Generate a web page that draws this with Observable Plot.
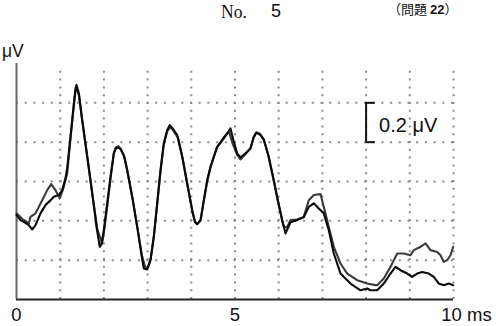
<!DOCTYPE html>
<html><head><meta charset="utf-8">
<script src="https://cdn.jsdelivr.net/npm/d3@7"></script>
<script src="https://cdn.jsdelivr.net/npm/@observablehq/plot@0.6"></script>
<style>
html,body{margin:0;padding:0;background:#fff;}
#wrap{position:relative;width:496px;height:326px;overflow:hidden;font-family:"Liberation Sans",Arial,sans-serif;color:#111;}
#wrap svg{position:absolute;left:0;top:0;}
.t{position:absolute;white-space:nowrap;line-height:1;}
#no{left:221px;top:2px;font-family:"Liberation Serif","DejaVu Serif",serif;font-size:19.5px;transform:scaleX(0.9);transform-origin:left top;}
#five{left:271px;top:2px;font-size:18px;}
#mondai{left:388px;top:2px;font-size:13px;font-family:"Noto Sans CJK JP",sans-serif;}
#uv{left:2px;top:43px;font-size:17.5px;}
</style></head><body>
<div id="wrap">
  <div class="t" id="no">No.</div>
  <div class="t" id="five">5</div>
  <div class="t" id="mondai">（問題 <b style="font-family:'Liberation Sans';">22</b>）</div>
  <div class="t" id="uv">μV</div>
</div>
<script>
// time axis (ms) and amplitude (μV)
const traceA_t = [0,0.092,0.206,0.281,0.359,0.435,0.549,0.664,0.778,0.854,0.968,1.046,1.121,1.160,1.236,1.297,1.350,1.373,1.426,1.503,1.618,1.732,1.831,1.906,1.945,1.998,2.076,2.151,2.227,2.288,2.380,2.455,2.533,2.648,2.762,2.854,2.913,2.991,3.066,3.142,3.220,3.295,3.371,3.449,3.508,3.600,3.677,3.792,3.906,4.021,4.080,4.135,4.211,4.286,4.364,4.439,4.515,4.593,4.668,4.744,4.822,4.897,4.973,5.050,5.126,5.240,5.355,5.430,5.492,5.584,5.659,5.773,5.888,5.979,6.080,6.156,6.270,6.423,6.574,6.689,6.803,6.918,7.032,7.146,7.261,7.414,7.643,7.872,8.025,8.101,8.254,8.405,8.558,8.673,8.787,8.941,9.055,9.169,9.284,9.435,9.549,9.664,9.778,9.892,9.993];
const traceA_v = [0.429,0.404,0.390,0.378,0.356,0.378,0.438,0.480,0.504,0.522,0.531,0.556,0.616,0.668,0.827,0.963,1.074,1.091,1.050,0.912,0.726,0.541,0.369,0.268,0.281,0.353,0.490,0.624,0.745,0.774,0.768,0.734,0.658,0.522,0.369,0.236,0.158,0.153,0.200,0.319,0.490,0.658,0.794,0.862,0.887,0.862,0.836,0.726,0.590,0.454,0.395,0.383,0.404,0.505,0.607,0.675,0.726,0.777,0.797,0.819,0.845,0.870,0.802,0.743,0.723,0.743,0.768,0.827,0.850,0.836,0.811,0.726,0.607,0.505,0.404,0.336,0.393,0.404,0.419,0.471,0.489,0.463,0.438,0.353,0.234,0.132,0.081,0.047,0.056,0.047,0.047,0.081,0.132,0.166,0.149,0.132,0.115,0.132,0.140,0.132,0.115,0.081,0.073,0.081,0.073];

const traceB_t = [0,0.137,0.281,0.320,0.435,0.588,0.703,0.794,0.892,0.991,1.082,1.160,1.236,1.297,1.350,1.384,1.430,1.510,1.625,1.739,1.854,1.961,2.014,2.080,2.151,2.227,2.265,2.334,2.403,2.470,2.540,2.655,2.770,2.870,2.950,3.010,3.070,3.145,3.220,3.295,3.371,3.449,3.500,3.560,3.630,3.700,3.800,3.910,4.021,4.090,4.140,4.211,4.286,4.364,4.439,4.515,4.593,4.668,4.744,4.822,4.874,4.950,5.050,5.126,5.240,5.355,5.420,5.480,5.560,5.660,5.760,5.870,5.979,6.080,6.117,6.194,6.270,6.423,6.574,6.689,6.803,6.957,7.032,7.146,7.261,7.414,7.568,7.796,8.025,8.215,8.254,8.405,8.558,8.712,8.863,9.016,9.092,9.245,9.359,9.474,9.627,9.703,9.778,9.856,9.931,9.993];
const traceB_v = [0.438,0.409,0.387,0.420,0.438,0.505,0.556,0.587,0.556,0.514,0.573,0.641,0.821,0.953,1.060,1.070,1.035,0.902,0.719,0.531,0.353,0.287,0.363,0.480,0.615,0.740,0.770,0.780,0.755,0.725,0.650,0.515,0.360,0.225,0.160,0.165,0.205,0.325,0.485,0.650,0.790,0.855,0.872,0.868,0.845,0.820,0.720,0.585,0.450,0.392,0.385,0.400,0.500,0.600,0.670,0.725,0.775,0.800,0.825,0.845,0.846,0.790,0.735,0.712,0.740,0.770,0.820,0.845,0.845,0.815,0.735,0.620,0.505,0.400,0.369,0.369,0.404,0.407,0.420,0.505,0.531,0.536,0.471,0.369,0.268,0.183,0.132,0.098,0.081,0.073,0.073,0.107,0.166,0.234,0.234,0.225,0.251,0.268,0.285,0.251,0.242,0.225,0.191,0.200,0.225,0.268];

const gridT = [1,2,3,4,5,6,7,8,9,10];
const gridV = [0.2,0.4,0.6,0.8,1.0];
const xTickVals = [0,5];
const xTickLabels = ["0","5"];
const xLastTick = [10];
const xLastLabel = ["10 ms"];
const scaleBarT = [8];
const scaleBarEnds = [0.8,1.0];
const scaleBarLabel = ["0.2 μV"];

const A = traceA_t.map((t,i)=>({t, v: traceA_v[i]}));
const B = traceB_t.map((t,i)=>({t, v: traceB_v[i]}));

const chart = Plot.plot({
  width: 496, height: 326,
  marginLeft: 16, marginRight: 43, marginTop: 63, marginBottom: 27,
  x: {domain: [0,10], axis: null},
  y: {domain: [0,1.2], axis: null},
  style: {background: "transparent", fontFamily: "'Liberation Sans', Arial, sans-serif", color: "#111", overflow: "visible"},
  marks: [
    Plot.ruleX(gridT, {y1: 0, y2: 1.16, stroke: "#8a8a8a", strokeWidth: 2, strokeDasharray: "2,5.8"}),
    Plot.ruleY(gridV, {x1: 0, x2: 10, stroke: "#8a8a8a", strokeWidth: 2, strokeDasharray: "2,6.7"}),
    Plot.ruleX([0], {y1: 0, y2: 1.2, stroke: "#666", strokeWidth: 2}),
    Plot.ruleY([0], {x1: 0, x2: 10, stroke: "#222", strokeWidth: 2}),
    Plot.line(B, {x: "t", y: "v", stroke: "#3c3c3c", strokeWidth: 2.1}),
    Plot.line(A, {x: "t", y: "v", stroke: "#0a0a0a", strokeWidth: 2.1}),
    Plot.ruleX(scaleBarT, {y1: scaleBarEnds[0], y2: scaleBarEnds[1], stroke: "#111", strokeWidth: 2}),
    Plot.ruleY(scaleBarEnds, {x1: scaleBarT[0], x2: scaleBarT[0] + 0.21, stroke: "#111", strokeWidth: 2}),
    Plot.text(scaleBarLabel, {x: scaleBarT, y: [(scaleBarEnds[0]+scaleBarEnds[1])/2], text: d => d, textAnchor: "start", dx: 13, dy: 3, fontSize: 20, fill: "#111"}),
    Plot.text(xTickLabels, {x: xTickVals, y: [0,0], text: d => d, dy: 16, fontSize: 18.5, fill: "#111"}),
    Plot.text(xLastLabel, {x: xLastTick, y: [0], text: d => d, dy: 16, dx: 13, fontSize: 18.5, fill: "#111"})
  ]
});
document.getElementById("wrap").prepend(chart);
</script>
</body></html>
